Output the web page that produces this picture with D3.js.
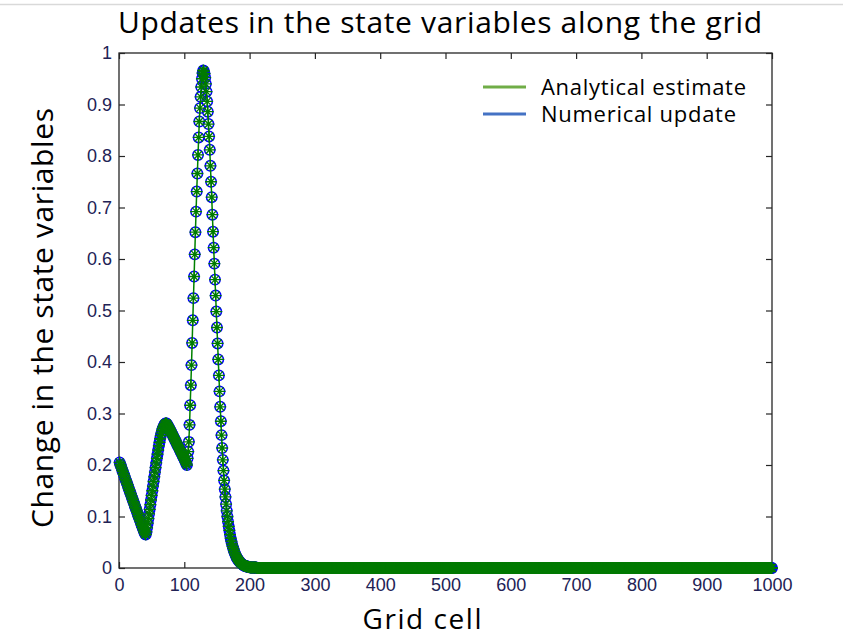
<!DOCTYPE html>
<html>
<head>
<meta charset="utf-8">
<script src="https://cdnjs.cloudflare.com/ajax/libs/d3/7.8.5/d3.min.js"></script>
<style>
    body { margin: 0; background: #fff; }
    .tick text { font-family: "Liberation Sans", Arial, sans-serif; font-size: 18px; fill: #222255; }
    .tick line { stroke: #262626; stroke-width: 1.2; }
</style>
</head>
<body>
<svg id="content" width="843" height="636"></svg>
<script>
// values, grid cells 1..220
var analyticalHead = [
    0.205, 0.201, 0.198, 0.194, 0.190, 0.187, 0.183, 0.180, 0.176, 0.172,
    0.169, 0.165, 0.162, 0.158, 0.154, 0.151, 0.147, 0.144, 0.140, 0.136,
    0.133, 0.129, 0.126, 0.122, 0.118, 0.115, 0.111, 0.108, 0.104, 0.100,
    0.097, 0.093, 0.090, 0.086, 0.083, 0.079, 0.076, 0.072, 0.069, 0.066,
    0.065, 0.070, 0.078, 0.087, 0.096, 0.105, 0.114, 0.123, 0.132, 0.141,
    0.150, 0.159, 0.168, 0.177, 0.186, 0.195, 0.204, 0.213, 0.221, 0.229,
    0.237, 0.244, 0.251, 0.257, 0.262, 0.267, 0.271, 0.274, 0.277, 0.279,
    0.280, 0.281, 0.280, 0.278, 0.276, 0.274, 0.271, 0.269, 0.266, 0.264,
    0.261, 0.259, 0.256, 0.253, 0.251, 0.248, 0.246, 0.243, 0.240, 0.238,
    0.235, 0.233, 0.230, 0.227, 0.225, 0.222, 0.220, 0.217, 0.214, 0.212,
    0.209, 0.206, 0.203, 0.200, 0.213, 0.226, 0.245, 0.278, 0.316, 0.355,
    0.394, 0.437, 0.481, 0.524, 0.566, 0.609, 0.652, 0.692, 0.731, 0.766,
    0.802, 0.836, 0.867, 0.893, 0.915, 0.934, 0.950, 0.961, 0.966, 0.965,
    0.960, 0.952, 0.940, 0.925, 0.906, 0.886, 0.862, 0.838, 0.812, 0.781,
    0.750, 0.720, 0.686, 0.653, 0.622, 0.591, 0.560, 0.529, 0.498, 0.467,
    0.436, 0.405, 0.374, 0.343, 0.313, 0.285, 0.258, 0.233, 0.210, 0.189,
    0.170, 0.153, 0.138, 0.124, 0.111, 0.100, 0.090, 0.081, 0.073, 0.065,
    0.058, 0.052, 0.047, 0.042, 0.038, 0.034, 0.030, 0.027, 0.024, 0.021,
    0.019, 0.017, 0.015, 0.013, 0.012, 0.010, 0.009, 0.008, 0.007, 0.006,
    0.005, 0.005, 0.004, 0.004, 0.003, 0.003, 0.003, 0.002, 0.002, 0.002,
    0.001, 0.001, 0.001, 0.001, 0.001, 0.001, 0.001, 0.001, 0.001, 0.001,
    0, 0, 0, 0, 0, 0, 0, 0, 0, 0
];
// numerical update sits right on the analytical estimate in the picture
var numericalHead = analyticalHead.slice();

// cells 221..1000 read as 0 for both series
var tailCount = 780;
var tailValue = 0;

var xTicks = [0, 100, 200, 300, 400, 500, 600, 700, 800, 900, 1000];
var yTicks = [0, 0.1, 0.2, 0.3, 0.4, 0.5, 0.6, 0.7, 0.8, 0.9, 1];
var yTickLabels = ["0", "0.1", "0.2", "0.3", "0.4", "0.5", "0.6", "0.7", "0.8", "0.9", "1"];

var legendLabels = ["Analytical estimate", "Numerical update"];
var legendColors = ["#70ad47", "#4472c4"];

function buildSeries(head) {
    var values = head.concat(new Array(tailCount).fill(tailValue));
    return values.map(function(v, i) {
        return { cell: i + 1, value: v };
    });
}

var analytical = buildSeries(analyticalHead);
var numerical = buildSeries(numericalHead);

var svg = d3.select('#content');

var plotLeft = 119, plotRight = 772, plotTop = 53, plotBottom = 568;

var x = d3.scaleLinear().domain([0, 1000]).range([plotLeft, plotRight]);
var y = d3.scaleLinear().domain([0, 1]).range([plotBottom, plotTop]);

// slide border line at the very top
svg.append('line')
    .attr('x1', 0).attr('x2', 843)
    .attr('y1', 4.5).attr('y2', 4.5)
    .style('stroke', '#d9d9d9')
    .style('stroke-width', 1.5);

// axes, ticks pointing inwards on all four sides
svg.append('g')
    .attr('transform', 'translate(0,' + plotBottom + ')')
    .call(d3.axisBottom(x).tickValues(xTicks).tickSizeInner(-6).tickSizeOuter(0).tickPadding(10)
        .tickFormat(d3.format('d')));
svg.append('g')
    .attr('transform', 'translate(' + plotLeft + ',0)')
    .call(d3.axisLeft(y).tickValues(yTicks).tickSizeInner(-6).tickSizeOuter(0).tickPadding(7)
        .tickFormat(function(d, i) { return yTickLabels[i]; }));
svg.append('g')
    .attr('transform', 'translate(0,' + plotTop + ')')
    .call(d3.axisTop(x).tickValues(xTicks).tickSizeInner(-6).tickSizeOuter(0).tickFormat(''));
svg.append('g')
    .attr('transform', 'translate(' + plotRight + ',0)')
    .call(d3.axisRight(y).tickValues(yTicks).tickSizeInner(-6).tickSizeOuter(0).tickFormat(''));

svg.selectAll('.domain').remove();

svg.append('rect')
    .attr('x', plotLeft).attr('y', plotTop)
    .attr('width', plotRight - plotLeft).attr('height', plotBottom - plotTop)
    .style('fill', 'none')
    .style('stroke', '#262626')
    .style('stroke-width', 1.3);

// numerical update: blue circles
svg.append('g')
    .selectAll('circle')
    .data(numerical)
    .enter()
    .append('circle')
    .attr('cx', function(d) { return x(d.cell); })
    .attr('cy', function(d) { return y(d.value); })
    .attr('r', 5.2)
    .style('fill', 'none')
    .style('stroke', '#0000ff')
    .style('stroke-width', 1.5);

// analytical estimate: green line with star markers
var line = d3.line()
    .x(function(d) { return x(d.cell); })
    .y(function(d) { return y(d.value); });

svg.append('path')
    .datum(analytical)
    .attr('d', line)
    .style('fill', 'none')
    .style('stroke', '#008000')
    .style('stroke-width', 1.5);

var star = 'M-6,0H6M0,-6V6M-4,-4L4,4M-4,4L4,-4';
svg.append('g')
    .selectAll('path')
    .data(analytical)
    .enter()
    .append('path')
    .attr('d', star)
    .attr('transform', function(d) { return 'translate(' + x(d.cell) + ',' + y(d.value) + ')'; })
    .style('fill', 'none')
    .style('stroke', '#007a00')
    .style('stroke-width', 1.3);

// titles
var font = '"Open Sans", "Noto Sans", sans-serif';

svg.append('text')
    .attr('x', 440).attr('y', 33)
    .attr('text-anchor', 'middle')
    .attr('textLength', 644)
    .style('font-family', font)
    .style('font-size', '30px')
    .style('fill', '#000')
    .text('Updates in the state variables along the grid');

svg.append('text')
    .attr('transform', 'translate(53,318) rotate(-90)')
    .attr('text-anchor', 'middle')
    .attr('textLength', 420)
    .style('font-family', font)
    .style('font-size', '30px')
    .style('fill', '#000')
    .text('Change in the state variables');

svg.append('text')
    .attr('x', 422).attr('y', 629)
    .attr('text-anchor', 'middle')
    .attr('textLength', 119)
    .style('font-family', font)
    .style('font-size', '28px')
    .style('fill', '#000')
    .text('Grid cell');

// legend
var legend = svg.append('g')
    .selectAll('g')
    .data(legendLabels)
    .enter()
    .append('g')
    .attr('transform', function(d, i) { return 'translate(483,' + (87 + i * 27) + ')'; });

legend.append('line')
    .attr('x1', 0).attr('x2', 43)
    .style('stroke', function(d, i) { return legendColors[i]; })
    .style('stroke-width', 3);

legend.append('text')
    .attr('x', 58).attr('y', 8)
    .attr('textLength', function(d, i) { return i === 0 ? 205 : 195; })
    .style('font-family', font)
    .style('font-size', '22px')
    .style('fill', '#000')
    .text(function(d) { return d; });
</script>
</body>
</html>
